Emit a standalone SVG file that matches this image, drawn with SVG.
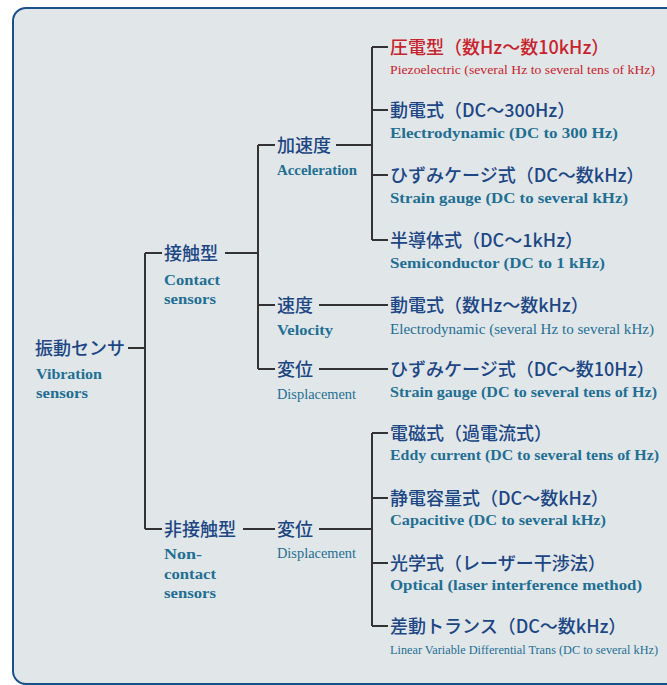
<svg xmlns="http://www.w3.org/2000/svg" width="667" height="685" viewBox="0 0 667 685">
<style>
.jp{font-family:"Noto Sans CJK JP","Noto Sans",sans-serif;font-size:18px;font-weight:500;fill:#1c4684}
.red{fill:#c8232c}
.en{font-family:"Liberation Serif",serif;font-size:15px;fill:#1f6f93;font-weight:bold}
.enr{font-family:"Liberation Serif",serif;font-size:15px;fill:#1f6f93}
.enred{fill:#c8232c}
.ln{fill:none;stroke:#333;stroke-width:2}
</style>
<rect x="13" y="8" width="690" height="676" rx="13" fill="#e1e6e9" stroke="#1b4f8c" stroke-width="2"/>
<g id="connectors" class="ln">
<path d="M128,348 H145 M145,253 V529 M145,253 H162 M145,529 H162"/>
<path d="M225,253 H258 M258,145 V369 M258,145 H275 M258,305 H275 M258,369 H275"/>
<path d="M336,145 H372 M372,47 V240 M372,47 H388 M372,110 H388 M372,175 H388 M372,240 H388"/>
<path d="M319,305 H388 M319,369 H388"/>
<path d="M243,529 H275 M319,529 H372 M372,433 V626 M372,433 H388 M372,498 H388 M372,563 H388 M372,626 H388"/>
</g>
<g id="root"><text class="jp" x="35" y="355">振動センサ</text><text class="en" x="36" y="379" textLength="66" lengthAdjust="spacingAndGlyphs">Vibration</text><text class="en" x="36" y="398" textLength="52" lengthAdjust="spacingAndGlyphs">sensors</text></g>
<g id="contact"><text class="jp" x="164" y="260">接触型</text><text class="en" x="164" y="285" textLength="56" lengthAdjust="spacingAndGlyphs">Contact</text><text class="en" x="164" y="304" textLength="52" lengthAdjust="spacingAndGlyphs">sensors</text></g>
<g id="noncontact"><text class="jp" x="164" y="536">非接触型</text><text class="en" x="164" y="559" textLength="38" lengthAdjust="spacingAndGlyphs">Non-</text><text class="en" x="164" y="579" textLength="52" lengthAdjust="spacingAndGlyphs">contact</text><text class="en" x="164" y="598" textLength="52" lengthAdjust="spacingAndGlyphs">sensors</text></g>
<g id="acceleration"><text class="jp" x="277" y="152">加速度</text><text class="en" x="277" y="175" textLength="80" lengthAdjust="spacingAndGlyphs">Acceleration</text></g>
<g id="velocity"><text class="jp" x="277" y="312">速度</text><text class="en" x="277" y="335" textLength="56" lengthAdjust="spacingAndGlyphs">Velocity</text></g>
<g id="displacement1"><text class="jp" x="277" y="376">変位</text><text class="enr" x="277" y="399" textLength="79" lengthAdjust="spacingAndGlyphs">Displacement</text></g>
<g id="displacement2"><text class="jp" x="277" y="536">変位</text><text class="enr" x="277" y="558" textLength="79" lengthAdjust="spacingAndGlyphs">Displacement</text></g>
<g id="piezo"><text class="jp red" x="390" y="54">圧電型（数Hz～数10kHz）</text><text class="enr enred" x="390" y="74" style="font-size:13.5px" textLength="265" lengthAdjust="spacingAndGlyphs">Piezoelectric (several Hz to several tens of kHz)</text></g>
<g id="electrodyn1"><text class="jp" x="390" y="117">動電式（DC～300Hz）</text><text class="en" x="390" y="138" textLength="228" lengthAdjust="spacingAndGlyphs">Electrodynamic (DC to 300 Hz)</text></g>
<g id="strain1"><text class="jp" x="390" y="182">ひずみケージ式（DC～数kHz）</text><text class="en" x="390" y="203" textLength="238" lengthAdjust="spacingAndGlyphs">Strain gauge (DC to several kHz)</text></g>
<g id="semi"><text class="jp" x="390" y="247">半導体式（DC～1kHz）</text><text class="en" x="390" y="268" textLength="215" lengthAdjust="spacingAndGlyphs">Semiconductor (DC to 1 kHz)</text></g>
<g id="electrodyn2"><text class="jp" x="390" y="312">動電式（数Hz～数kHz）</text><text class="enr" x="390" y="334" textLength="264" lengthAdjust="spacingAndGlyphs">Electrodynamic (several Hz to several kHz)</text></g>
<g id="strain2"><text class="jp" x="390" y="376">ひずみケージ式（DC～数10Hz）</text><text class="en" x="390" y="397" textLength="267" lengthAdjust="spacingAndGlyphs">Strain gauge (DC to several tens of  Hz)</text></g>
<g id="eddy"><text class="jp" x="390" y="440">電磁式（過電流式）</text><text class="en" x="390" y="460" textLength="269" lengthAdjust="spacingAndGlyphs">Eddy current (DC to several tens of  Hz)</text></g>
<g id="capacitive"><text class="jp" x="390" y="505">静電容量式（DC～数kHz）</text><text class="en" x="390" y="525" textLength="216" lengthAdjust="spacingAndGlyphs">Capacitive (DC to several kHz)</text></g>
<g id="optical"><text class="jp" x="390" y="570">光学式（レーザー干渉法）</text><text class="en" x="390" y="590" textLength="252" lengthAdjust="spacingAndGlyphs">Optical (laser interference method)</text></g>
<g id="lvdt"><text class="jp" x="390" y="633">差動トランス（DC～数kHz）</text><text class="enr" x="390" y="654" style="font-size:12.5px" textLength="268" lengthAdjust="spacingAndGlyphs">Linear Variable Differential Trans (DC to several kHz)</text></g>
</svg>
